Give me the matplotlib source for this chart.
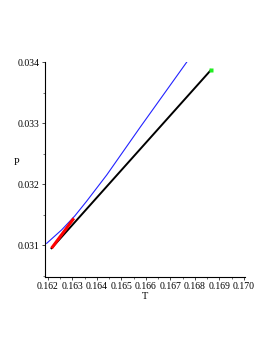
import matplotlib
matplotlib.use("Agg")
import matplotlib.pyplot as plt
from matplotlib.ticker import MultipleLocator

plt.rcParams['font.family'] = ['Liberation Serif', 'DejaVu Serif']

# data
blue_T = [0.16195, 0.16256, 0.16310, 0.16358, 0.16440, 0.16576, 0.16770]
blue_P = [0.03103, 0.03125, 0.03148, 0.03172, 0.03215, 0.03293, 0.03402]
black_T = [0.16215, 0.16865]
black_P = [0.03095, 0.03387]
red_T = [0.16215, 0.16306]
red_P = [0.03095, 0.03144]
end_T = [0.16865]
end_P = [0.03387]

fig = plt.figure(figsize=(2.74, 3.55), dpi=100)
ax = fig.add_axes([0.164, 0.22, 0.73, 0.605])

ax.plot(blue_T, blue_P, color="#2222ff", lw=0.8)
ax.plot(black_T, black_P, color="black", lw=1.4)
ax.plot(red_T, red_P, color="red", lw=2.2, solid_capstyle="butt")
ax.plot(end_T, end_P, "s", color="#22ee22", ms=2.5, mec="none")

ax.set_xlim(0.16188, 0.17004)
ax.set_ylim(0.03048, 0.034)

ax.spines['top'].set_visible(False)
ax.spines['right'].set_visible(False)
ax.spines['left'].set_linewidth(0.8)
ax.spines['bottom'].set_linewidth(0.8)

ax.xaxis.set_major_locator(MultipleLocator(0.001))
ax.xaxis.set_minor_locator(MultipleLocator(0.0005))
ax.yaxis.set_major_locator(MultipleLocator(0.001))
ax.yaxis.set_minor_locator(MultipleLocator(0.0005))
ax.xaxis.set_major_formatter(plt.FuncFormatter(lambda v, p: f"{v:.3f}"))
ax.yaxis.set_major_formatter(plt.FuncFormatter(lambda v, p: f"{v:.3f}"))
ax.tick_params(which="major", length=2.5, width=0.5, labelsize=7, pad=1.5)
ax.tick_params(which="minor", length=1.5, width=0.4)

ax.set_xlabel("T", fontsize=7.5)
ax.set_ylabel("P", fontsize=7.5, rotation=0)
ax.xaxis.set_label_coords(0.5, -0.07)
ax.yaxis.set_label_coords(-0.14, 0.51)

fig.savefig("out.png", dpi=100)
